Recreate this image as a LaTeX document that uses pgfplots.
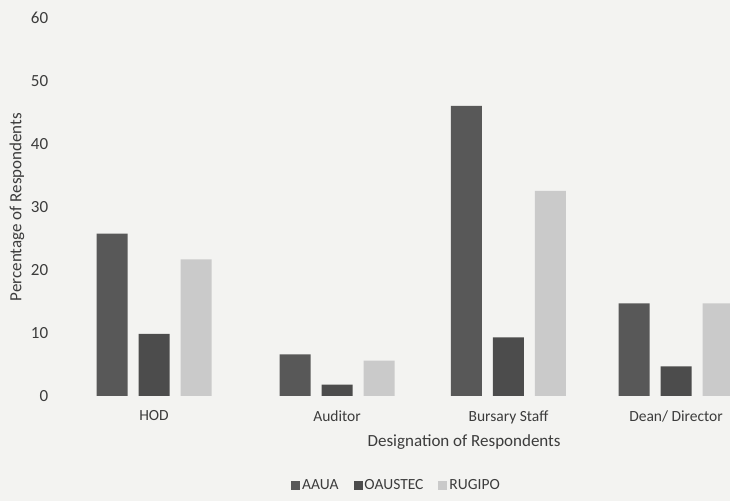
\documentclass[border=0pt]{standalone}
\usepackage{fontspec}
\setmainfont{Carlito}
\usepackage{pgfplots}
\pgfplotsset{compat=1.18}
\usetikzlibrary{backgrounds}
\definecolor{aaua}{HTML}{585858}
\definecolor{oaustec}{HTML}{4C4C4C}
\definecolor{rugipo}{HTML}{CACACA}
\definecolor{paper}{HTML}{F3F3F1}
\definecolor{txt}{HTML}{3C3C3C}
\newcommand{\fs}{\fontsize{17bp}{20bp}\selectfont}
\newcommand{\fss}{\fontsize{15.5bp}{18bp}\selectfont}
\begin{document}
\fs
\begin{tikzpicture}
\begin{axis}[name=ax, at={(0,0)}, anchor=south west,
  scale only axis, width=663bp, height=377.7bp,
  xmin=-0.5, xmax=3.31, ymin=0, ymax=60,
  ytick={0,10,...,60}, xtick={0,1.052,2.037,3},
  xticklabels={HOD,Auditor,Bursary Staff,Dean/ Director},
  axis line style={draw=none}, major tick length=0pt,
  ybar=11bp, bar width=31bp,
  /pgf/number format/assume math mode=true,
  tick label style={font=\fs, text=txt},
  yticklabel style={anchor=east, xshift=-13bp},
  xticklabel style={anchor=north, yshift=-9bp, font=\fss},
  ylabel={Percentage of Respondents},
  ylabel style={at={(axis description cs:-0.0754,0.5)}, anchor=center, font=\fs, text=txt},
  xlabel={Designation of Respondents},
  xlabel style={at={(axis description cs:0.599,-0.123)}, anchor=center, font=\fs, text=txt},
  legend columns=3,
  legend style={draw=none, fill=none, at={(axis description cs:0.497,-0.238)}, anchor=center,
    font=\fss, text=txt, inner sep=0pt,
    /tikz/every even column/.append style={column sep=13bp}},
  legend image code/.code={\fill[#1,draw=none] (0bp,-4.5bp) rectangle (9bp,4.5bp);},
  clip=false,
]
\addplot[fill=aaua, draw=none] coordinates {(0,25.8) (1.052,6.6) (2.037,46.1) (3,14.7)};
\addplot[fill=oaustec, draw=none] coordinates {(0,9.85) (1.052,1.8) (2.037,9.3) (3,4.7)};
\addplot[fill=rugipo, draw=none] coordinates {(0,21.7) (1.052,5.6) (2.037,32.6) (3,14.7)};
\legend{AAUA,OAUSTEC,RUGIPO}
\end{axis}
\begin{pgfonlayer}{background}
\fill[paper] ([shift={(-67bp,-105bp)}]ax.south west) rectangle ([shift={(0bp,18.3bp)}]ax.north east);
\end{pgfonlayer}
\pgfresetboundingbox
\path[use as bounding box] ([shift={(-67bp,-105bp)}]ax.south west) rectangle ([shift={(0bp,18.3bp)}]ax.north east);
\end{tikzpicture}
\end{document}
